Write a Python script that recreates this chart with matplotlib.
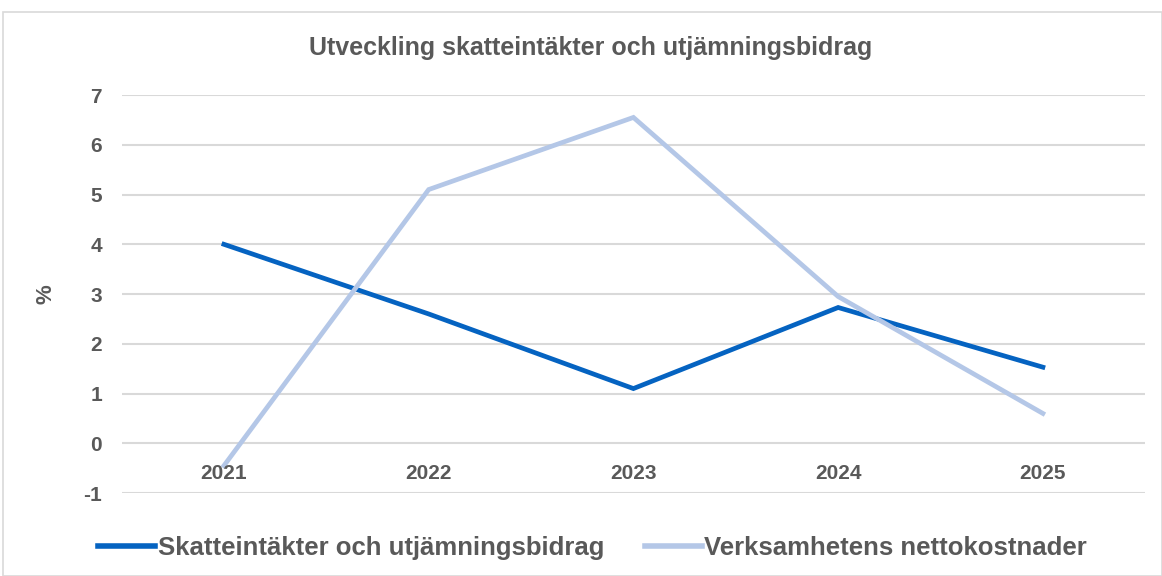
import matplotlib.pyplot as plt
from matplotlib.patches import Rectangle

plt.rcParams['font.family'] = ['Liberation Sans', 'DejaVu Sans']

years = ['2021', '2022', '2023', '2024', '2025']
skatt = [4.0, 2.6, 1.1, 2.73, 1.53]
netto = [-0.45, 5.1, 6.55, 2.95, 0.6]

grey = '#595959'

fig = plt.figure(figsize=(11.62, 5.76), dpi=100)
ax = fig.add_axes([0.1046, 0.144, 0.881, 0.691])

x = range(len(years))
ax.plot(x, skatt, color='#0563c1', lw=3.4, label='Skatteintäkter och utjämningsbidrag',
        solid_joinstyle='miter')
ax.plot(x, netto, color='#b4c7e7', lw=3.4, label='Verksamhetens nettokostnader',
        solid_joinstyle='miter')

ax.set_xlim(-0.5, 4.5)
ax.set_ylim(-1, 7)
ax.set_yticks(range(-1, 8))
ax.grid(axis='y', color='#d9d9d9', lw=1.5)
ax.set_axisbelow(True)
for s in ax.spines.values():
    s.set_visible(False)
ax.tick_params(length=0)
ax.tick_params(axis='y', pad=14)
ax.set_yticklabels([str(v) for v in range(-1, 8)], fontsize=15, fontweight='bold', color=grey)

ax.set_xticks([])
for i, yr in enumerate(years):
    ax.text(i, -0.6, yr, ha='center', va='center', fontsize=15, fontweight='bold', color=grey)

ax.set_ylabel('%', fontsize=16, fontweight='bold', color=grey)
ax.yaxis.set_label_coords(-0.064, 0.5)

fig.text(0.508, 0.917, 'Utveckling skatteintäkter och utjämningsbidrag', ha='center', va='center',
         fontsize=18, fontweight='bold', color=grey)

leg = fig.legend(loc='center', bbox_to_anchor=(0.51, 0.049), ncol=2, frameon=False,
                 fontsize=18.5, handlelength=2.2, handletextpad=0.1, columnspacing=1.6)
for t in leg.get_texts():
    t.set_color(grey)
    t.set_fontweight('bold')
for h in leg.get_lines():
    h.set_linewidth(4)

fig.patches.append(Rectangle((0.003, 0.0), 0.997, 0.979, transform=fig.transFigure,
                             fill=False, edgecolor='#d9d9d9', lw=1.2))

fig.savefig('out.png', dpi=100)
